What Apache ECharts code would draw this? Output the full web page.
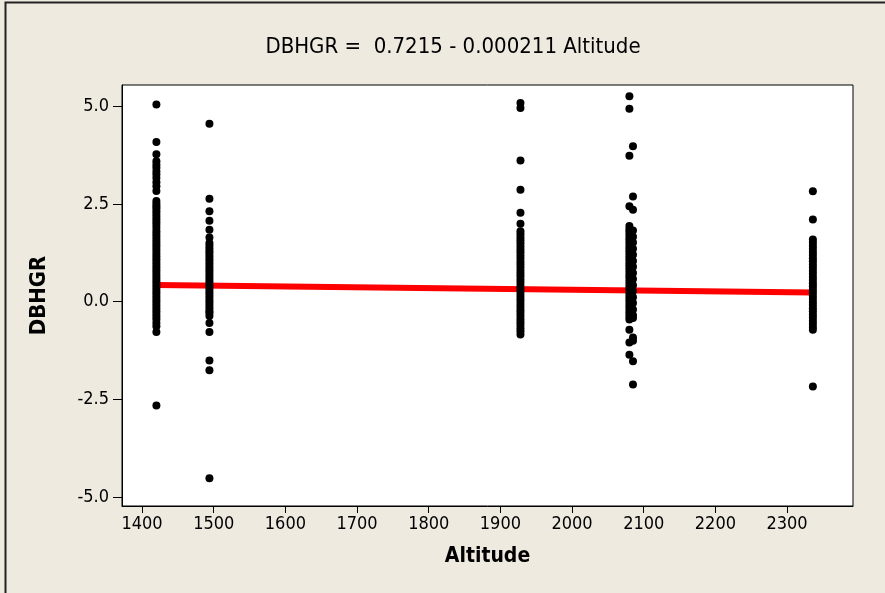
<!DOCTYPE html>
<html>
<head>
<meta charset="utf-8">
<script src="https://cdn.jsdelivr.net/npm/echarts@6/dist/echarts.min.js"></script>
<style>html,body{margin:0;padding:0;background:#EEEAE0;}#c{width:885px;height:593px;}</style>
</head>
<body>
<div id="c"></div>
<script>
// Altitude sites and DBHGR values
const alt1 = 1420;
const vals1 = [5.04, 4.08, 3.77, 3.59, 3.50, 3.42, 3.33, 3.25, 3.16, 3.05, 2.95, 2.83,
  2.57, 2.50, 2.44, 2.38, 2.31, 2.24, 2.17, 2.10, 2.03, 1.96, 1.88, 1.80, 1.73, 1.66, 1.58,
  1.51, 1.44, 1.37, 1.30, 1.22, 1.15, 1.08, 1.01, 0.94, 0.87, 0.80, 0.73, 0.66, 0.59, 0.52,
  0.45, 0.38, 0.31, 0.24, 0.17, 0.10, 0.03, -0.04, -0.11, -0.18, -0.25, -0.32, -0.39,
  -0.46, -0.55, -0.63, -0.78, -2.66];
const alt2 = 1494;
const vals2 = [4.55, 2.63, 2.31, 2.07, 1.84, 1.64, 1.50, 1.43, 1.36, 1.29, 1.22, 1.15, 1.08,
  1.01, 0.94, 0.87, 0.80, 0.73, 0.66, 0.59, 0.52, 0.45, 0.38, 0.31, 0.24, 0.17, 0.10, 0.03,
  -0.04, -0.11, -0.18, -0.25, -0.29, -0.37, -0.55, -0.78, -1.51, -1.76, -4.52];
const alt3 = 1928;
const vals3 = [5.08, 4.95, 3.61, 2.86, 2.27, 1.99, 1.80, 1.72, 1.64, 1.57, 1.49, 1.41, 1.33,
  1.26, 1.18, 1.10, 1.02, 0.95, 0.87, 0.79, 0.71, 0.64, 0.56, 0.48, 0.40, 0.33, 0.25, 0.17,
  0.09, 0.02, -0.06, -0.14, -0.22, -0.29, -0.37, -0.45, -0.53, -0.60, -0.68, -0.76, -0.84];
const alt4a = 2080;
const vals4a = [5.25, 4.93, 3.73, 2.44, 1.93, 1.85, 1.78, 1.70, 1.62, 1.55, 1.47, 1.39, 1.31,
  1.24, 1.16, 1.08, 1.00, 0.93, 0.85, 0.77, 0.69, 0.62, 0.54, 0.46, 0.38, 0.31, 0.23, 0.15,
  0.07, 0.00, -0.08, -0.16, -0.24, -0.31, -0.39, -0.46, -0.72, -1.05, -1.36];
const alt4b = 2085;
const vals4b = [3.97, 2.69, 2.35, 1.82, 1.66, 1.51, 1.35, 1.20, 1.04, 0.89, 0.73, 0.58,
  0.42, 0.27, 0.11, -0.04, -0.20, -0.35, -0.42, -0.92, -1.00, -1.53, -2.12];
const alt5 = 2336;
const vals5 = [2.82, 2.10, 1.59, 1.51, 1.43, 1.35, 1.27, 1.19, 1.11, 1.03, 0.95, 0.87, 0.79,
  0.71, 0.63, 0.55, 0.47, 0.39, 0.31, 0.23, 0.15, 0.07, -0.01, -0.09, -0.17, -0.25, -0.33,
  -0.41, -0.49, -0.57, -0.65, -0.72, -2.17];
// Fitted line endpoints (DBHGR = 0.7215 - 0.000211 Altitude)
const fitX = [1420, 2336];
const fitY = [0.422, 0.229];
const xTicks = [1400, 1500, 1600, 1700, 1800, 1900, 2000, 2100, 2200, 2300];
const yTicks = [-5.0, -2.5, 0.0, 2.5, 5.0];
const titleText = 'DBHGR =  0.7215 - 0.000211 Altitude';

const points = [];
[[alt1, vals1], [alt2, vals2], [alt3, vals3], [alt4a, vals4a], [alt4b, vals4b], [alt5, vals5]]
  .forEach(([a, vs]) => vs.forEach(v => points.push([a, v])));

const FONT = '"DejaVu Sans Condensed", "Liberation Sans Narrow", "DejaVu Sans", sans-serif';
const chart = echarts.init(document.getElementById('c'));
chart.setOption({
  backgroundColor: '#EEEAE0',
  animation: false,
  title: {
    text: titleText, left: 448, top: 31, textAlign: 'center',
    textStyle: { fontFamily: FONT, fontSize: 22, fontWeight: 'normal', color: '#000' }
  },
  graphic: [{
    type: 'rect', silent: true, z: -1,
    shape: { x: 5.5, y: 2.5, width: 1000, height: 1000 },
    style: { fill: 'none', stroke: '#222', lineWidth: 2 }
  }],
  grid: { left: 122, right: 32, top: 85, bottom: 87, show: true, backgroundColor: '#fff', borderColor: '#000', borderWidth: 1 },
  xAxis: {
    type: 'value', min: 1372, max: 2392,
    name: 'Altitude', nameLocation: 'middle', nameGap: 40,
    nameTextStyle: { fontFamily: FONT, fontSize: 21, fontWeight: 'bold', color: '#000' },
    axisLine: { show: true, onZero: false, lineStyle: { color: '#000' } },
    axisTick: { show: true, length: 7, customValues: xTicks, lineStyle: { color: '#000' } },
    axisLabel: { customValues: xTicks, fontFamily: FONT, fontSize: 18, color: '#000', margin: 9,
      formatter: v => String(v) },
    splitLine: { show: false }
  },
  yAxis: {
    type: 'value', min: -5.23, max: 5.54,
    name: 'DBHGR', nameLocation: 'middle', nameGap: 72,
    nameTextStyle: { fontFamily: FONT, fontSize: 22, fontWeight: 'bold', color: '#000' },
    axisLine: { show: true, lineStyle: { color: '#000' } },
    axisTick: { show: true, length: 9, customValues: yTicks, lineStyle: { color: '#000' } },
    axisLabel: { customValues: yTicks, fontFamily: FONT, fontSize: 18, color: '#000', margin: 13,
      formatter: v => v.toFixed(1) },
    splitLine: { show: false }
  },
  series: [
    {
      type: 'line', data: fitX.map((x, i) => [x, fitY[i]]), symbol: 'none', z: 1,
      lineStyle: { color: '#FF0000', width: 6 }
    },
    {
      type: 'scatter', data: points, symbol: 'circle', symbolSize: 8, z: 2,
      itemStyle: { color: '#000', opacity: 1 }
    }
  ]
});
</script>
</body>
</html>
